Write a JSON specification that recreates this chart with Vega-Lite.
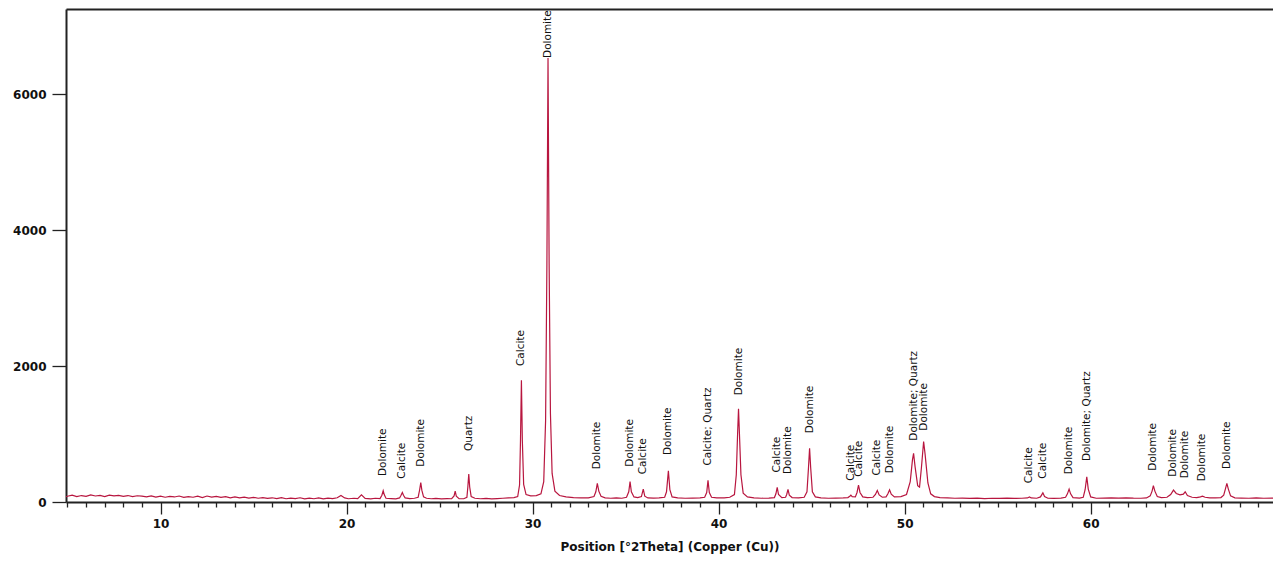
{
  "$schema": "https://vega.github.io/schema/vega-lite/v6.json",
  "width": 1207,
  "height": 493,
  "autosize": "none",
  "padding": {"left": 66, "top": 9, "right": 0, "bottom": 62},
  "background": "white",
  "config": {
    "view": {"stroke": null},
    "axis": {"grid": false}
  },
  "datasets": {
    "xrd": [
      {"theta": 4.92, "counts": 80}, {"theta": 5.0, "counts": 85}, {"theta": 5.25, "counts": 100}, {"theta": 5.5, "counts": 78}, {"theta": 5.75, "counts": 95},
      {"theta": 6.0, "counts": 82}, {"theta": 6.25, "counts": 105}, {"theta": 6.5, "counts": 88}, {"theta": 6.75, "counts": 96}, {"theta": 7.0, "counts": 80},
      {"theta": 7.25, "counts": 102}, {"theta": 7.5, "counts": 90}, {"theta": 7.75, "counts": 98}, {"theta": 8.0, "counts": 84}, {"theta": 8.25, "counts": 95},
      {"theta": 8.5, "counts": 78}, {"theta": 8.75, "counts": 92}, {"theta": 9.0, "counts": 86}, {"theta": 9.25, "counts": 76}, {"theta": 9.5, "counts": 90},
      {"theta": 9.75, "counts": 72}, {"theta": 10.0, "counts": 85}, {"theta": 10.25, "counts": 70}, {"theta": 10.5, "counts": 82}, {"theta": 10.75, "counts": 74},
      {"theta": 11.0, "counts": 88}, {"theta": 11.25, "counts": 68}, {"theta": 11.5, "counts": 80}, {"theta": 11.75, "counts": 70}, {"theta": 12.0, "counts": 85},
      {"theta": 12.25, "counts": 66}, {"theta": 12.5, "counts": 88}, {"theta": 12.75, "counts": 72}, {"theta": 13.0, "counts": 82}, {"theta": 13.25, "counts": 68},
      {"theta": 13.5, "counts": 78}, {"theta": 13.75, "counts": 62}, {"theta": 14.0, "counts": 74}, {"theta": 14.25, "counts": 60}, {"theta": 14.5, "counts": 72},
      {"theta": 14.75, "counts": 58}, {"theta": 15.0, "counts": 68}, {"theta": 15.25, "counts": 55}, {"theta": 15.5, "counts": 65}, {"theta": 15.75, "counts": 52},
      {"theta": 16.0, "counts": 62}, {"theta": 16.25, "counts": 50}, {"theta": 16.5, "counts": 64}, {"theta": 16.75, "counts": 48}, {"theta": 17.0, "counts": 58},
      {"theta": 17.25, "counts": 50}, {"theta": 17.5, "counts": 62}, {"theta": 17.75, "counts": 46}, {"theta": 18.0, "counts": 56}, {"theta": 18.25, "counts": 48},
      {"theta": 18.5, "counts": 60}, {"theta": 18.75, "counts": 45}, {"theta": 19.0, "counts": 58}, {"theta": 19.25, "counts": 50}, {"theta": 19.5, "counts": 62},
      {"theta": 19.7, "counts": 95}, {"theta": 19.9, "counts": 60}, {"theta": 20.1, "counts": 48}, {"theta": 20.4, "counts": 55}, {"theta": 20.6, "counts": 50},
      {"theta": 20.8, "counts": 105}, {"theta": 21.0, "counts": 52}, {"theta": 21.3, "counts": 45}, {"theta": 21.55, "counts": 55}, {"theta": 21.8, "counts": 50},
      {"theta": 21.9, "counts": 100}, {"theta": 21.97, "counts": 165}, {"theta": 22.03, "counts": 105}, {"theta": 22.12, "counts": 55}, {"theta": 22.4, "counts": 50},
      {"theta": 22.65, "counts": 45}, {"theta": 22.85, "counts": 60}, {"theta": 22.93, "counts": 100}, {"theta": 23.0, "counts": 140}, {"theta": 23.06, "counts": 100},
      {"theta": 23.15, "counts": 60}, {"theta": 23.4, "counts": 50}, {"theta": 23.65, "counts": 55}, {"theta": 23.85, "counts": 70}, {"theta": 23.93, "counts": 180},
      {"theta": 23.99, "counts": 285}, {"theta": 24.05, "counts": 170}, {"theta": 24.14, "counts": 75}, {"theta": 24.3, "counts": 55}, {"theta": 24.55, "counts": 48},
      {"theta": 24.8, "counts": 52}, {"theta": 25.1, "counts": 45}, {"theta": 25.4, "counts": 50}, {"theta": 25.65, "counts": 48}, {"theta": 25.78, "counts": 90},
      {"theta": 25.84, "counts": 160}, {"theta": 25.9, "counts": 85}, {"theta": 26.05, "counts": 50}, {"theta": 26.3, "counts": 48}, {"theta": 26.47, "counts": 70},
      {"theta": 26.52, "counts": 220}, {"theta": 26.57, "counts": 410}, {"theta": 26.62, "counts": 220}, {"theta": 26.7, "counts": 80}, {"theta": 26.9, "counts": 55},
      {"theta": 27.2, "counts": 48}, {"theta": 27.5, "counts": 52}, {"theta": 27.8, "counts": 45}, {"theta": 28.1, "counts": 50}, {"theta": 28.4, "counts": 55},
      {"theta": 28.7, "counts": 60}, {"theta": 29.0, "counts": 65}, {"theta": 29.2, "counts": 80}, {"theta": 29.3, "counts": 250}, {"theta": 29.35, "counts": 900},
      {"theta": 29.4, "counts": 1790}, {"theta": 29.45, "counts": 900}, {"theta": 29.52, "counts": 260}, {"theta": 29.65, "counts": 110}, {"theta": 29.9, "counts": 90},
      {"theta": 30.2, "counts": 95}, {"theta": 30.45, "counts": 120}, {"theta": 30.6, "counts": 300}, {"theta": 30.7, "counts": 1200}, {"theta": 30.77, "counts": 3500},
      {"theta": 30.83, "counts": 6530}, {"theta": 30.89, "counts": 3500}, {"theta": 30.96, "counts": 1300}, {"theta": 31.05, "counts": 420}, {"theta": 31.2, "counts": 160},
      {"theta": 31.45, "counts": 95}, {"theta": 31.8, "counts": 75}, {"theta": 32.2, "counts": 65}, {"theta": 32.6, "counts": 60}, {"theta": 33.0, "counts": 62},
      {"theta": 33.3, "counts": 80}, {"theta": 33.4, "counts": 150}, {"theta": 33.48, "counts": 275}, {"theta": 33.56, "counts": 160}, {"theta": 33.68, "counts": 85},
      {"theta": 33.9, "counts": 60}, {"theta": 34.2, "counts": 55}, {"theta": 34.5, "counts": 60}, {"theta": 34.8, "counts": 55}, {"theta": 35.05, "counts": 70},
      {"theta": 35.17, "counts": 150}, {"theta": 35.24, "counts": 300}, {"theta": 35.31, "counts": 150}, {"theta": 35.45, "counts": 75}, {"theta": 35.65, "counts": 65},
      {"theta": 35.85, "counts": 80}, {"theta": 35.95, "counts": 190}, {"theta": 36.03, "counts": 85}, {"theta": 36.2, "counts": 60}, {"theta": 36.5, "counts": 58},
      {"theta": 36.8, "counts": 60}, {"theta": 37.1, "counts": 70}, {"theta": 37.2, "counts": 150}, {"theta": 37.3, "counts": 460}, {"theta": 37.38, "counts": 180},
      {"theta": 37.5, "counts": 75}, {"theta": 37.8, "counts": 60}, {"theta": 38.2, "counts": 55}, {"theta": 38.6, "counts": 58}, {"theta": 39.0, "counts": 60},
      {"theta": 39.25, "counts": 70}, {"theta": 39.36, "counts": 140}, {"theta": 39.43, "counts": 320}, {"theta": 39.5, "counts": 140}, {"theta": 39.62, "counts": 70},
      {"theta": 39.9, "counts": 62}, {"theta": 40.3, "counts": 60}, {"theta": 40.6, "counts": 70}, {"theta": 40.85, "counts": 110}, {"theta": 40.95, "counts": 400},
      {"theta": 41.02, "counts": 1000}, {"theta": 41.07, "counts": 1370}, {"theta": 41.12, "counts": 1000}, {"theta": 41.2, "counts": 400}, {"theta": 41.32, "counts": 130},
      {"theta": 41.55, "counts": 75}, {"theta": 41.9, "counts": 60}, {"theta": 42.3, "counts": 55}, {"theta": 42.7, "counts": 58}, {"theta": 43.0, "counts": 65},
      {"theta": 43.08, "counts": 120}, {"theta": 43.15, "counts": 215}, {"theta": 43.22, "counts": 110}, {"theta": 43.4, "counts": 65}, {"theta": 43.6, "counts": 70},
      {"theta": 43.66, "counts": 110}, {"theta": 43.73, "counts": 185}, {"theta": 43.8, "counts": 100}, {"theta": 43.95, "counts": 65}, {"theta": 44.3, "counts": 62},
      {"theta": 44.6, "counts": 70}, {"theta": 44.75, "counts": 150}, {"theta": 44.83, "counts": 500}, {"theta": 44.89, "counts": 790}, {"theta": 44.95, "counts": 500},
      {"theta": 45.04, "counts": 150}, {"theta": 45.2, "counts": 75}, {"theta": 45.5, "counts": 60}, {"theta": 45.9, "counts": 55}, {"theta": 46.3, "counts": 58},
      {"theta": 46.7, "counts": 60}, {"theta": 46.95, "counts": 65}, {"theta": 47.05, "counts": 85}, {"theta": 47.11, "counts": 100}, {"theta": 47.18, "counts": 80},
      {"theta": 47.35, "counts": 75}, {"theta": 47.44, "counts": 140}, {"theta": 47.52, "counts": 250}, {"theta": 47.6, "counts": 140}, {"theta": 47.75, "counts": 75},
      {"theta": 48.0, "counts": 65}, {"theta": 48.3, "counts": 70}, {"theta": 48.43, "counts": 110}, {"theta": 48.53, "counts": 170}, {"theta": 48.63, "counts": 105},
      {"theta": 48.8, "counts": 70}, {"theta": 49.0, "counts": 75}, {"theta": 49.1, "counts": 120}, {"theta": 49.19, "counts": 180}, {"theta": 49.28, "counts": 115},
      {"theta": 49.45, "counts": 75}, {"theta": 49.8, "counts": 80}, {"theta": 50.1, "counts": 110}, {"theta": 50.3, "counts": 300}, {"theta": 50.42, "counts": 620},
      {"theta": 50.48, "counts": 715}, {"theta": 50.56, "counts": 520}, {"theta": 50.7, "counts": 240}, {"theta": 50.8, "counts": 220}, {"theta": 50.9, "counts": 500},
      {"theta": 51.02, "counts": 890}, {"theta": 51.1, "counts": 700}, {"theta": 51.25, "counts": 280}, {"theta": 51.4, "counts": 120}, {"theta": 51.6, "counts": 80},
      {"theta": 51.9, "counts": 65}, {"theta": 52.3, "counts": 60}, {"theta": 52.7, "counts": 55}, {"theta": 53.1, "counts": 58}, {"theta": 53.5, "counts": 52},
      {"theta": 53.9, "counts": 56}, {"theta": 54.3, "counts": 50}, {"theta": 54.7, "counts": 55}, {"theta": 55.1, "counts": 52}, {"theta": 55.5, "counts": 56},
      {"theta": 55.9, "counts": 52}, {"theta": 56.3, "counts": 55}, {"theta": 56.6, "counts": 60}, {"theta": 56.71, "counts": 75}, {"theta": 56.8, "counts": 60},
      {"theta": 57.1, "counts": 55}, {"theta": 57.3, "counts": 75}, {"theta": 57.43, "counts": 135}, {"theta": 57.52, "counts": 80}, {"theta": 57.7, "counts": 55},
      {"theta": 58.0, "counts": 52}, {"theta": 58.4, "counts": 58}, {"theta": 58.65, "counts": 70}, {"theta": 58.75, "counts": 120}, {"theta": 58.84, "counts": 190},
      {"theta": 58.92, "counts": 120}, {"theta": 59.05, "counts": 65}, {"theta": 59.4, "counts": 58}, {"theta": 59.6, "counts": 70}, {"theta": 59.7, "counts": 180},
      {"theta": 59.79, "counts": 370}, {"theta": 59.87, "counts": 190}, {"theta": 60.0, "counts": 75}, {"theta": 60.3, "counts": 55}, {"theta": 60.7, "counts": 58},
      {"theta": 61.1, "counts": 62}, {"theta": 61.5, "counts": 58}, {"theta": 61.9, "counts": 60}, {"theta": 62.3, "counts": 56}, {"theta": 62.7, "counts": 55},
      {"theta": 63.0, "counts": 60}, {"theta": 63.2, "counts": 90}, {"theta": 63.3, "counts": 160}, {"theta": 63.37, "counts": 240}, {"theta": 63.45, "counts": 160},
      {"theta": 63.58, "counts": 80}, {"theta": 63.8, "counts": 65}, {"theta": 64.1, "counts": 70}, {"theta": 64.3, "counts": 110}, {"theta": 64.45, "counts": 175},
      {"theta": 64.6, "counts": 125}, {"theta": 64.8, "counts": 105}, {"theta": 64.98, "counts": 115}, {"theta": 65.08, "counts": 150}, {"theta": 65.2, "counts": 95},
      {"theta": 65.45, "counts": 70}, {"theta": 65.7, "counts": 65}, {"theta": 65.9, "counts": 75}, {"theta": 66.01, "counts": 85}, {"theta": 66.15, "counts": 70},
      {"theta": 66.4, "counts": 62}, {"theta": 66.7, "counts": 60}, {"theta": 67.0, "counts": 65}, {"theta": 67.15, "counts": 100}, {"theta": 67.25, "counts": 200},
      {"theta": 67.32, "counts": 275}, {"theta": 67.4, "counts": 190}, {"theta": 67.52, "counts": 90}, {"theta": 67.75, "counts": 62}, {"theta": 68.1, "counts": 58},
      {"theta": 68.5, "counts": 55}, {"theta": 68.9, "counts": 60}, {"theta": 69.3, "counts": 55}, {"theta": 69.8, "counts": 58}
    ],
    "peaks": [
      {"theta": 21.97, "counts": 382, "phase": "Dolomite"},
      {"theta": 23.0, "counts": 343, "phase": "Calcite"},
      {"theta": 23.99, "counts": 520, "phase": "Dolomite"},
      {"theta": 26.57, "counts": 750, "phase": "Quartz"},
      {"theta": 29.4, "counts": 2000, "phase": "Calcite"},
      {"theta": 30.83, "counts": 6530, "phase": "Dolomite"},
      {"theta": 33.48, "counts": 481, "phase": "Dolomite"},
      {"theta": 35.24, "counts": 520, "phase": "Dolomite"},
      {"theta": 35.95, "counts": 407, "phase": "Calcite"},
      {"theta": 37.3, "counts": 691, "phase": "Dolomite"},
      {"theta": 39.43, "counts": 535, "phase": "Calcite; Quartz"},
      {"theta": 41.07, "counts": 1569, "phase": "Dolomite"},
      {"theta": 43.15, "counts": 432, "phase": "Calcite"},
      {"theta": 43.73, "counts": 412, "phase": "Dolomite"},
      {"theta": 44.89, "counts": 1010, "phase": "Dolomite"},
      {"theta": 47.11, "counts": 314, "phase": "Calcite"},
      {"theta": 47.52, "counts": 372, "phase": "Calcite"},
      {"theta": 48.53, "counts": 388, "phase": "Calcite"},
      {"theta": 49.19, "counts": 422, "phase": "Dolomite"},
      {"theta": 50.48, "counts": 902, "phase": "Dolomite; Quartz"},
      {"theta": 51.02, "counts": 1049, "phase": "Dolomite"},
      {"theta": 56.71, "counts": 275, "phase": "Calcite"},
      {"theta": 57.43, "counts": 343, "phase": "Calcite"},
      {"theta": 58.84, "counts": 407, "phase": "Dolomite"},
      {"theta": 59.79, "counts": 603, "phase": "Dolomite; Quartz"},
      {"theta": 63.37, "counts": 461, "phase": "Dolomite"},
      {"theta": 64.45, "counts": 372, "phase": "Dolomite"},
      {"theta": 65.08, "counts": 348, "phase": "Dolomite"},
      {"theta": 66.01, "counts": 305, "phase": "Dolomite"},
      {"theta": 67.32, "counts": 485, "phase": "Dolomite"}
    ]
  },
  "resolve": {"scale": {"x": "shared", "y": "shared"}, "axis": {"x": "independent"}},
  "layer": [
    {
      "data": {"name": "xrd"},
      "mark": {"type": "line", "color": "#b8163f", "strokeWidth": 1.2, "clip": true},
      "encoding": {
        "x": {
          "field": "theta", "type": "quantitative",
          "scale": {"domain": [4.92, 69.8], "nice": false, "zero": false},
          "axis": {
            "orient": "bottom",
            "values": [5,6,7,8,9,10,11,12,13,14,15,16,17,18,19,20,21,22,23,24,25,26,27,28,29,30,31,32,33,34,35,36,37,38,39,40,41,42,43,44,45,46,47,48,49,50,51,52,53,54,55,56,57,58,59,60,61,62,63,64,65,66,67,68,69],
            "tickSize": {"condition": {"test": "datum.value % 10 === 0", "value": 12}, "value": 5},
            "tickWidth": 1.3,
            "tickColor": "#222",
            "labelExpr": "datum.value % 10 === 0 ? datum.label : ''",
            "labelFont": "DejaVu Sans", "labelFontWeight": "bold", "labelFontSize": 12, "labelColor": "#111",
            "labelPadding": 4,
            "domainColor": "#222", "domainWidth": 2,
            "title": "Position [°2Theta] (Copper (Cu))",
            "titleFont": "DejaVu Sans", "titleFontWeight": "bold", "titleFontSize": 12, "titleColor": "#111",
            "titlePadding": 12
          }
        },
        "y": {
          "field": "counts", "type": "quantitative",
          "scale": {"domain": [0, 7250], "nice": false},
          "axis": {
            "values": [0, 2000, 4000, 6000],
            "format": "d",
            "tickSize": 14, "tickWidth": 1.3, "tickColor": "#222",
            "labelFont": "DejaVu Sans", "labelFontWeight": "bold", "labelFontSize": 12, "labelColor": "#111",
            "labelPadding": 6,
            "domainColor": "#222", "domainWidth": 2,
            "title": null
          }
        }
      }
    },
    {
      "data": {"name": "peaks"},
      "mark": {"type": "text", "angle": 270, "align": "left", "baseline": "middle", "font": "DejaVu Sans", "fontSize": 10.5, "color": "#111"},
      "encoding": {
        "x": {
          "field": "theta", "type": "quantitative",
          "axis": {"orient": "top", "labels": false, "ticks": false, "title": null, "domainColor": "#222", "domainWidth": 2}
        },
        "y": {"field": "counts", "type": "quantitative"},
        "text": {"field": "phase"}
      }
    }
  ]
}
